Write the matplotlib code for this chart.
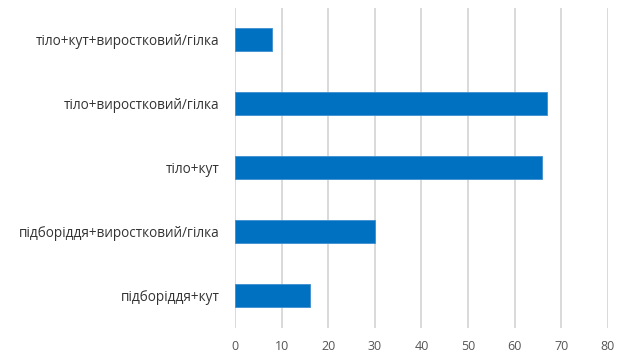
import matplotlib
matplotlib.use("Agg")
import matplotlib.pyplot as plt

categories = ["підборіддя+кут", "підборіддя+виростковий/гілка", "тіло+кут",
              "тіло+виростковий/гілка", "тіло+кут+виростковий/гілка"]
values = [16, 30, 66, 67, 8]
xticks = [0, 10, 20, 30, 40, 50, 60, 70, 80]

plt.rcParams['font.family'] = ['Open Sans', 'DejaVu Sans']

fig = plt.figure(figsize=(6.22, 3.58), dpi=100)
ax = fig.add_axes([0.378, 0.084, 0.599, 0.894])

ax.barh(range(len(categories)), values, height=0.36, color="#0070C0",
        edgecolor="#3d8fd0", linewidth=0.6, zorder=3)

ax.set_xlim(0, 80)
ax.set_ylim(-0.5, len(categories) - 0.5)
ax.set_xticks(xticks)
ax.set_yticks(range(len(categories)))
ax.set_yticklabels(categories, fontsize=9.8, color="#333333")
ax.tick_params(axis="x", labelsize=9, labelcolor="#555555", length=0, pad=9)
ax.tick_params(axis="y", length=0, pad=11)
ax.grid(axis="x", color="#d9d9d9", linewidth=1.4, zorder=0)
ax.set_axisbelow(True)
for s in ax.spines.values():
    s.set_visible(False)

fig.savefig("out.png", dpi=100)
